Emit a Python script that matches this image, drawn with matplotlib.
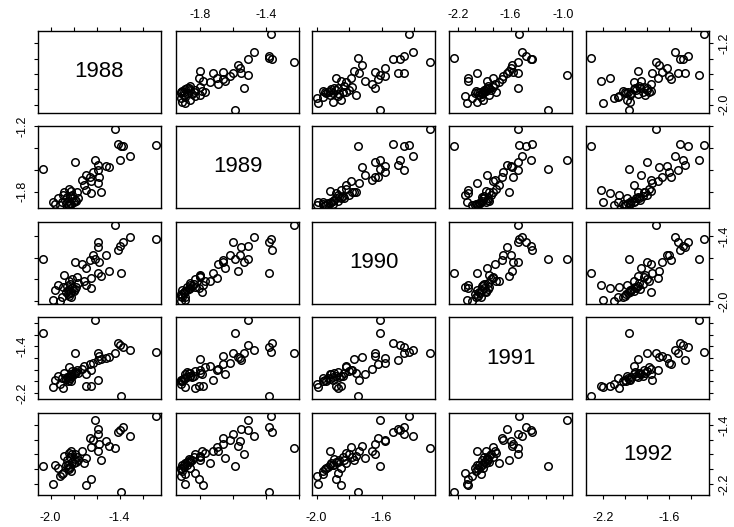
import matplotlib
matplotlib.use('Agg')
import matplotlib.pyplot as plt
import numpy as np

plt.rcParams['font.family'] = ['Liberation Sans', 'DejaVu Sans']

years = ['1988', '1989', '1990', '1991', '1992']

# one value per unit, same order in every year
v1988 = [-1.08, -1.44, -2.07, -1.39, -1.61, -1.92, -1.31, -1.40, -1.37, -1.41,
         -1.59, -1.59, -1.52, -1.63, -1.58, -1.66, -1.79, -1.59, -1.65, -1.69,
         -1.73, -1.71, -1.56, -1.49, -1.69, -1.65, -1.89, -1.85, -1.83, -1.81,
         -1.84, -1.80, -1.86, -1.82, -1.79, -1.87, -1.83, -1.78, -1.85, -1.90,
         -1.81, -1.76, -1.96, -1.94, -1.77, -1.84, -1.88, -1.98, -1.82]
v1989 = [-1.37, -1.225, -1.59, -1.38, -1.51, -1.92, -1.47, -1.51, -1.38, -1.36,
         -1.55, -1.60, -1.56, -1.62, -1.66, -1.66, -1.53, -1.72, -1.70, -1.65,
         -1.69, -1.74, -1.80, -1.57, -1.78, -1.81, -1.83, -1.88, -1.90, -1.86,
         -1.92, -1.89, -1.85, -1.91, -1.87, -1.90, -1.84, -1.88, -1.92, -1.89,
         -1.83, -1.86, -1.91, -1.86, -1.80, -1.77, -1.80, -1.89, -1.79]
v1990 = [-1.43, -1.30, -1.61, -1.745, -1.61, -2.00, -1.41, -1.49, -1.46, -1.53,
         -1.50, -1.46, -1.58, -1.58, -1.64, -1.62, -1.64, -1.74, -1.79, -1.70,
         -1.66, -1.82, -1.77, -1.72, -1.85, -1.88, -1.87, -1.90, -1.93, -1.88,
         -1.95, -1.91, -1.86, -1.96, -1.89, -1.92, -1.84, -1.87, -1.94, -1.96,
         -1.80, -1.83, -1.90, -1.85, -1.78, -1.82, -1.76, -1.99, -1.92]
v1991 = [-1.50, -1.52, -1.17, -2.25, -0.95, -2.04, -1.47, -1.37, -1.42, -1.35,
         -1.64, -1.51, -1.60, -1.68, -1.57, -1.70, -1.52, -1.98, -1.80, -1.87,
         -1.78, -1.73, -1.62, -1.58, -2.08, -2.08, -2.12, -1.92, -1.95, -1.90,
         -1.97, -1.88, -1.93, -1.99, -1.86, -1.96, -1.90, -1.84, -2.00, -1.94,
         -1.82, -1.86, -1.98, -1.91, -1.80, -1.76, -1.85, -2.10, -1.88]
v1992 = [-1.28, -1.72, -1.96, -2.31, -1.33, -2.10, -1.55, -1.47, -1.43, -1.50,
         -1.46, -1.52, -1.62, -1.60, -1.66, -1.58, -1.80, -1.75, -1.70, -1.85,
         -1.76, -1.92, -1.88, -1.69, -2.22, -2.13, -2.05, -1.94, -1.97, -1.90,
         -2.00, -1.92, -1.88, -2.02, -1.86, -1.95, -1.84, -1.91, -1.99, -2.06,
         -1.80, -1.87, -1.95, -1.98, -1.83, -1.78, -1.82, -2.20, -1.76]
series = [v1988, v1989, v1990, v1991, v1992]

# tick marks and the ones that carry a label
col_labels = [[-2.0, -1.4], [-1.8, -1.4], [-2.0, -1.6], [-2.2, -1.6, -1.0], [-2.2, -1.6]]
row_labels = [[-2.0, -1.2], [-1.8, -1.2], [-2.0, -1.4], [-2.2, -1.4], [-2.2, -1.4]]

W, H = 734, 527
lefts = [38, 176, 312, 449, 586]
tops = [31, 126, 222, 317, 413]
pw, ph = 123, 82

fig = plt.figure(figsize=(W / 100, H / 100), dpi=100)

lims = []
for s in series:
    a = np.array(s)
    d = a.max() - a.min()
    lims.append((a.min() - 0.04 * d, a.max() + 0.04 * d))


def tick_set(lo, hi):
    t = np.arange(np.ceil(lo / 0.2 - 1e-9), np.floor(hi / 0.2 + 1e-9) + 1) * 0.2
    return [round(v, 1) for v in t]


def fmt(vals, keep):
    return [f'{v:.1f}' if any(abs(v - k) < 1e-6 for k in keep) else '' for v in vals]


n = len(years)
for i in range(n):
    for j in range(n):
        ax = fig.add_axes([lefts[j] / W, 1 - (tops[i] + ph) / H, pw / W, ph / H])
        ax.set_xlim(*lims[j])
        ax.set_ylim(*lims[i])
        for sp in ax.spines.values():
            sp.set_linewidth(1.0)
        if i == j:
            ax.text(0.5, 0.5, years[i], transform=ax.transAxes, ha='center',
                    va='center', fontsize=16)
        else:
            ax.plot(series[j], series[i], 'o', mfc='none', mec='black',
                    mew=1.1, ms=5.4, ls='none')

        xt = tick_set(*lims[j])
        yt = tick_set(*lims[i])
        ax.set_xticks(xt)
        ax.set_xticklabels(fmt(xt, col_labels[j]), fontsize=9)
        ax.set_yticks(yt)
        ax.set_yticklabels(fmt(yt, row_labels[i]), fontsize=9, rotation=90, va='center')

        top_row, bot_row = i == 0, i == n - 1
        ax.tick_params(axis='x', direction='out', length=3, width=0.8,
                       pad=4.5 if top_row else 9,
                       top=top_row, bottom=bot_row,
                       labeltop=top_row and j % 2 == 1,
                       labelbottom=bot_row and j % 2 == 0)
        left_col, right_col = j == 0, j == n - 1
        ax.tick_params(axis='y', direction='out', length=3, width=0.8, pad=4,
                       left=left_col, right=right_col,
                       labelleft=left_col and i % 2 == 1,
                       labelright=right_col and i % 2 == 0)

fig.savefig('out.png', dpi=100, facecolor='white')
